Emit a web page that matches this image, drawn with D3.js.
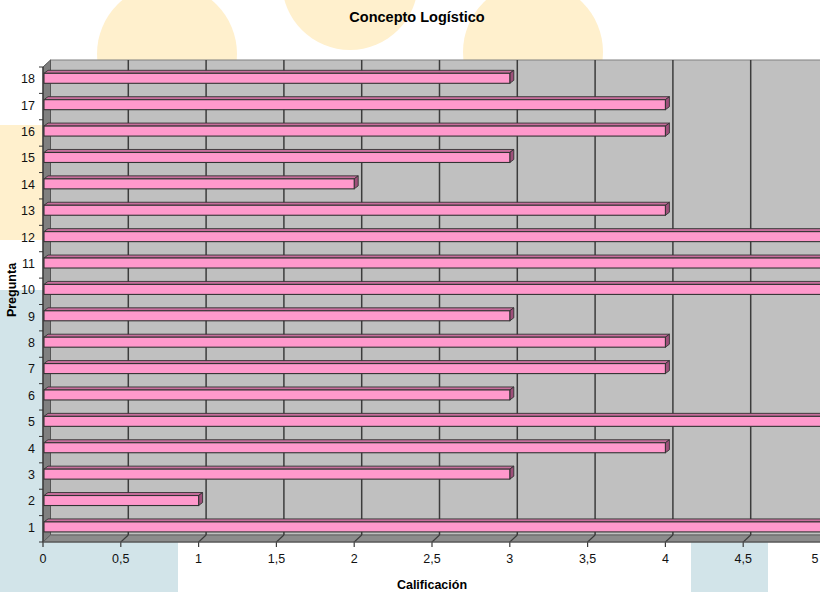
<!DOCTYPE html>
<html><head><meta charset="utf-8">
<script src="https://cdn.jsdelivr.net/npm/d3@7"></script>
<style>body{margin:0;background:#fff}svg{display:block;font-family:"Liberation Sans",Arial,sans-serif}</style>
</head><body><svg id="c" width="820" height="592"></svg>
<script>
const categories = ["1","2","3","4","5","6","7","8","9","10","11","12","13","14","15","16","17","18"];
const values = [5,1,3,4,5,3,4,4,3,5,5,5,4,2,3,4,4,3];
const xTicks = [0,0.5,1,1.5,2,2.5,3,3.5,4,4.5,5];
const title = "Concepto Logístico";
const xTitle = "Calificación";
const yTitle = "Pregunta";

const svg = d3.select("#c");
const W = 820, H = 592;
const DX = 7.5, DY = -7;

// decorative background
const bg = svg.append("g");
const orange = "#FFF0CD", blue = "#D2E4E9";
bg.append("rect").attr("x",0).attr("y",290).attr("width",178).attr("height",302).attr("fill",blue);
bg.append("rect").attr("x",691).attr("y",290).attr("width",77).attr("height",302).attr("fill",blue);
bg.append("rect").attr("x",0).attr("y",125).attr("width",46).attr("height",115).attr("fill",orange);
bg.append("circle").attr("cx",167).attr("cy",54).attr("r",70).attr("fill",orange);
bg.append("circle").attr("cx",350).attr("cy",-18).attr("r",68).attr("fill",orange);
bg.append("circle").attr("cx",533).attr("cy",52).attr("r",70).attr("fill",orange);

const x = d3.scaleLinear().domain([0,5]).range([43,821]);
const y = d3.scaleBand().domain(categories.slice().reverse()).range([67,542]).padding(0);
const x0 = x(0), yTop = y.range()[0], yBot = y.range()[1];

// back wall
svg.append("rect").attr("x",x0+DX).attr("y",yTop+DY).attr("width",W).attr("height",yBot-yTop)
  .attr("fill","#C0C0C0").attr("stroke","#808080").attr("stroke-width",1);
// left wall
svg.append("path").attr("d",`M${x0},${yTop}L${x0+DX},${yTop+DY}L${x0+DX},${yBot+DY}L${x0},${yBot}Z`)
  .attr("fill","#808080").attr("stroke","#555").attr("stroke-width",1);
// floor
svg.append("path").attr("d",`M${x0},${yBot}L${x0+DX},${yBot+DY}L${x(5)+DX+10},${yBot+DY}L${x(5)+10},${yBot}Z`)
  .attr("fill","#8C8C8C").attr("stroke","#606060").attr("stroke-width",1);

// gridlines on back wall and floor
const grid = svg.append("g");
xTicks.filter(t=>t>0).forEach(t=>{
  const xf = x(t);
  grid.append("line").attr("x1",xf+DX).attr("x2",xf+DX).attr("y1",yTop+DY).attr("y2",yBot+DY)
    .attr("stroke","#3C3C3C").attr("stroke-width",1.5);
  grid.append("path").attr("d",`M${xf+DX},${yBot+DY}L${xf},${yBot}L${xf},${yBot+5}`)
    .attr("fill","none").attr("stroke","#3C3C3C").attr("stroke-width",1.2);
});
// y axis line and ticks
svg.append("line").attr("x1",x0).attr("x2",x0).attr("y1",yTop).attr("y2",yBot+5).attr("stroke","#333").attr("stroke-width",1.2);
const yb = categories.map(c=>y(c)).concat([yBot]);
yb.forEach(v=>{
  svg.append("line").attr("x1",x0-4).attr("x2",x0).attr("y1",v).attr("y2",v).attr("stroke","#333").attr("stroke-width",1);
});
svg.append("line").attr("x1",x0).attr("x2",W).attr("y1",yBot).attr("y2",yBot).attr("stroke","#555").attr("stroke-width",1);

// bars
const bars = svg.append("g");
const bdx = 4, bdy = -3, bh = 10, bOff = 6.3;
categories.forEach((c,i)=>{
  const v = values[i];
  const xl = x0+1, xr = x(v);
  const t = y(c)+bOff, b = t+bh;
  bars.append("path").attr("d",`M${xl},${t}L${xl+bdx},${t+bdy}L${xr+bdx},${t+bdy}L${xr},${t}Z`)
    .attr("fill","#C86E9C").attr("stroke","#333").attr("stroke-width",0.9);
  bars.append("path").attr("d",`M${xr},${t}L${xr+bdx},${t+bdy}L${xr+bdx},${b+bdy}L${xr},${b}Z`)
    .attr("fill","#9E4F7A").attr("stroke","#333").attr("stroke-width",0.9);
  bars.append("rect").attr("x",xl).attr("y",t).attr("width",xr-xl).attr("height",bh)
    .attr("fill","#FF99CC").attr("stroke","#333").attr("stroke-width",1.1);
});

// labels
svg.append("g").selectAll("text").data(categories).join("text")
  .attr("x",35).attr("y",d=>y(d)+y.bandwidth()/2-1).attr("text-anchor","end")
  .attr("dominant-baseline","central").attr("font-size",12.5).attr("fill","#111").text(d=>d);
const fmt = d=>String(d).replace(".",",");
svg.append("g").selectAll("text").data(xTicks).join("text")
  .attr("x",d=>Math.min(x(d),815)).attr("y",563).attr("text-anchor","middle")
  .attr("font-size",12.5).attr("fill","#111").text(fmt);

svg.append("text").attr("x",417).attr("y",22).attr("text-anchor","middle")
  .attr("font-size",14.5).attr("font-weight","bold").text(title);
svg.append("text").attr("x",432).attr("y",589).attr("text-anchor","middle")
  .attr("font-size",12.5).attr("font-weight","bold").text(xTitle);
svg.append("text").attr("transform","translate(16,290) rotate(-90)").attr("text-anchor","middle")
  .attr("font-size",12.5).attr("font-weight","bold").text(yTitle);
</script></body></html>
